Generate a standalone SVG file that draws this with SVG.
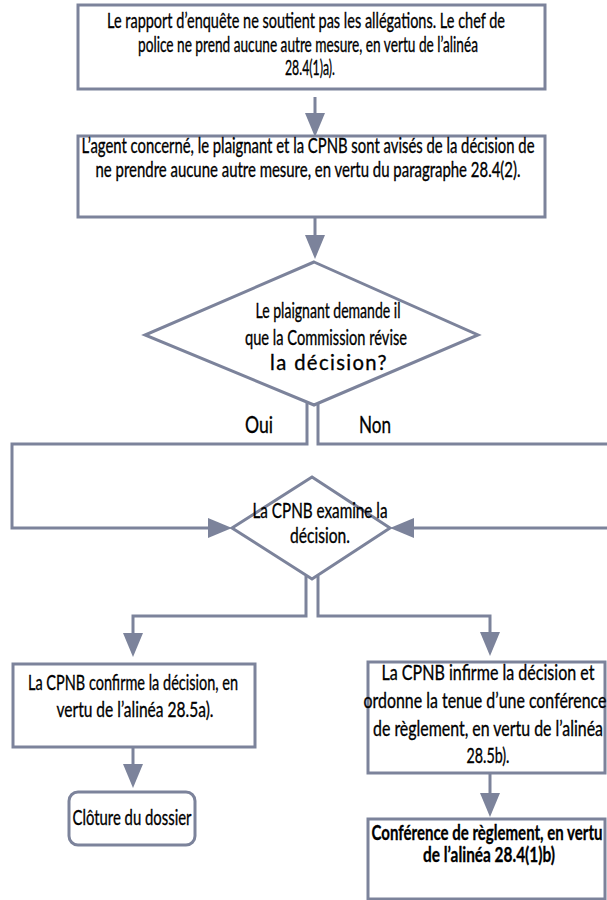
<svg xmlns="http://www.w3.org/2000/svg" width="607" height="900" viewBox="0 0 607 900">
  <style>
    .shape { fill: #ffffff; stroke: #7c839b; stroke-width: 3; }
    .wire { fill: none; stroke: #7c839b; stroke-width: 3; }
    text { font-family: Lato, "Open Sans", "Liberation Sans", sans-serif; font-size: 22px; fill: #000000; stroke: #000000; stroke-width: 0.35; text-anchor: middle; }
    .big { font-size: 24px; }
    .bold { font-weight: bold; font-size: 20px; stroke-width: 0.3; }
    .spaced { letter-spacing: 1.5px; }
  </style>
  <defs>
    <marker id="arrow" markerUnits="userSpaceOnUse" markerWidth="26" markerHeight="22" refX="0" refY="10" orient="auto" overflow="visible">
      <path d="M0,0 L24,10 L0,20 Z" fill="#7c839b"/>
    </marker>
  </defs>

  <rect width="607" height="900" fill="#ffffff"/>

  <!-- connectors -->
  <g id="connectors">
    <path class="wire" d="M315,97 V113" marker-end="url(#arrow)"/>
    <path class="wire" d="M315,217 V235" marker-end="url(#arrow)"/>
    <!-- Oui branch -->
    <path class="wire" d="M307,403 V444 H12 V528 H208" marker-end="url(#arrow)"/>
    <!-- Non branch -->
    <path class="wire" d="M318,403 V444 H612"/>
    <path class="wire" d="M612,528 H414" marker-end="url(#arrow)"/>
    <!-- review outcomes -->
    <path class="wire" d="M306,576 V616 H133 V633" marker-end="url(#arrow)"/>
    <path class="wire" d="M318,576 V616 H490 V632" marker-end="url(#arrow)"/>
    <path class="wire" d="M133,747 V764" marker-end="url(#arrow)"/>
    <path class="wire" d="M490,773 V793" marker-end="url(#arrow)"/>
  </g>

  <g id="rapport">
    <rect class="shape" x="78" y="5" width="467" height="84"/>
    <text x="306" y="28" textLength="398" lengthAdjust="spacingAndGlyphs">Le rapport d’enquête ne soutient pas les allégations. Le chef de</text>
    <text x="308" y="52" textLength="340" lengthAdjust="spacingAndGlyphs">police ne prend aucune autre mesure, en vertu de l’alinéa</text>
    <text x="310" y="75" textLength="50" lengthAdjust="spacingAndGlyphs">28.4(1)a).</text>
  </g>

  <g id="avis">
    <rect class="shape" x="78" y="136" width="467" height="81"/>
    <text x="308" y="153" textLength="453" lengthAdjust="spacingAndGlyphs">L’agent concerné, le plaignant et la CPNB sont avisés de la décision de</text>
    <text x="308" y="177" textLength="425" lengthAdjust="spacingAndGlyphs">ne prendre aucune autre mesure, en vertu du paragraphe 28.4(2).</text>
  </g>

  <g id="demande-revision">
    <polygon class="shape" points="314,262 478,335 314,405 145,335"/>
    <text x="328" y="318" textLength="145" lengthAdjust="spacingAndGlyphs">Le plaignant demande il</text>
    <text x="326" y="345" textLength="162" lengthAdjust="spacingAndGlyphs">que la Commission révise</text>
    <text class="spaced" x="329" y="370" textLength="118" lengthAdjust="spacingAndGlyphs">la décision?</text>
  </g>

  <g id="label-oui">
    <text class="big" x="259" y="433" textLength="28" lengthAdjust="spacingAndGlyphs">Oui</text>
  </g>
  <g id="label-non">
    <text class="big" x="375" y="433" textLength="32" lengthAdjust="spacingAndGlyphs">Non</text>
  </g>

  <g id="examen">
    <polygon class="shape" points="312,477 390,528 312,579 232,528"/>
    <text x="320" y="518" textLength="135" lengthAdjust="spacingAndGlyphs">La CPNB examine la</text>
    <text x="320" y="543" textLength="60" lengthAdjust="spacingAndGlyphs">décision.</text>
  </g>

  <g id="confirme">
    <rect class="shape" x="13" y="664" width="242" height="83"/>
    <text x="133" y="690" textLength="210" lengthAdjust="spacingAndGlyphs">La CPNB confirme la décision, en</text>
    <text x="135" y="717" textLength="157" lengthAdjust="spacingAndGlyphs">vertu de l’alinéa 28.5a).</text>
  </g>

  <g id="cloture">
    <rect class="shape" x="69" y="792" width="126" height="53" rx="9" ry="9"/>
    <text x="132" y="825" textLength="119" lengthAdjust="spacingAndGlyphs">Clôture du dossier</text>
  </g>

  <g id="infirme">
    <rect class="shape" x="368" y="662" width="237" height="111"/>
    <text x="488" y="680" textLength="213" lengthAdjust="spacingAndGlyphs">La CPNB infirme la décision et</text>
    <text x="485" y="708" textLength="243" lengthAdjust="spacingAndGlyphs">ordonne la tenue d’une conférence</text>
    <text x="488" y="736" textLength="230" lengthAdjust="spacingAndGlyphs">de règlement, en vertu de l’alinéa</text>
    <text x="488" y="763" textLength="43" lengthAdjust="spacingAndGlyphs">28.5b).</text>
  </g>

  <g id="conference">
    <rect class="shape" x="368" y="819" width="237" height="80"/>
    <text class="bold" x="487" y="840" textLength="231" lengthAdjust="spacingAndGlyphs">Conférence de règlement, en vertu</text>
    <text class="bold" x="489" y="862" textLength="132" lengthAdjust="spacingAndGlyphs">de l’alinéa 28.4(1)b)</text>
  </g>
</svg>
